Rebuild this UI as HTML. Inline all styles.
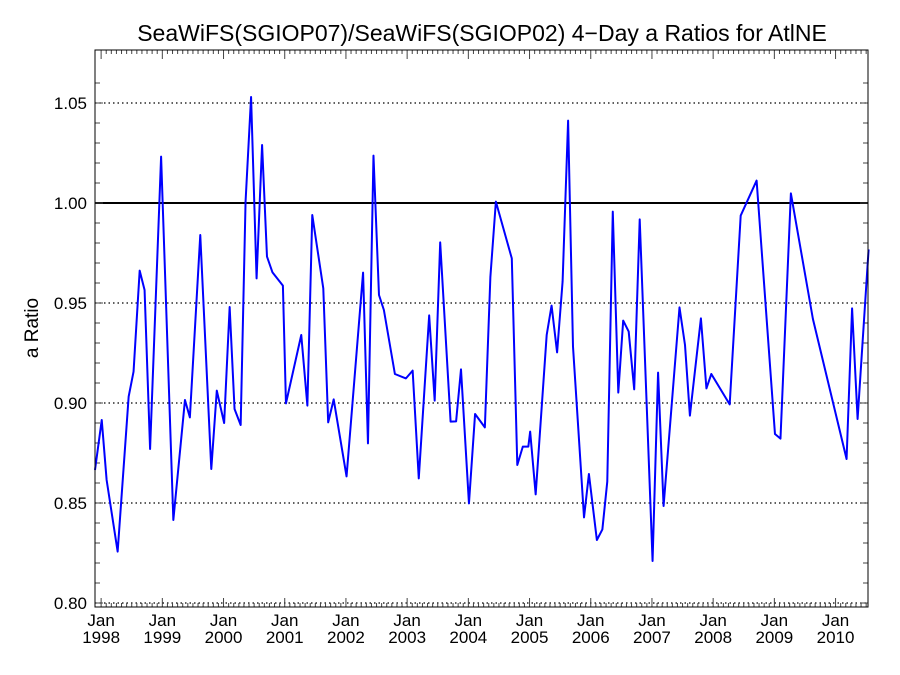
<!DOCTYPE html>
<html><head><meta charset="utf-8"><style>
body{margin:0;background:#fff;}
svg{display:block;font-family:"Liberation Sans",Arial,sans-serif;}
</style></head><body>
<svg id="chart" width="900" height="675" viewBox="0 0 900 675" xmlns="http://www.w3.org/2000/svg">
<text x="482" y="41" font-size="23" text-anchor="middle">SeaWiFS(SGIOP07)/SeaWiFS(SGIOP02) 4−Day a Ratios for AtlNE</text>
<text x="0" y="0" font-size="19" text-anchor="middle" transform="translate(38,328) rotate(-90)">a Ratio</text>
<g id="grid"></g>
<g id="ticks"></g>
<g id="labels"></g>
<g id="series"></g>
<rect x="95" y="50" width="773" height="557" fill="none" stroke="#000" stroke-width="1"/>
</svg>
<script>
const yTicks=[0.80,0.85,0.90,0.95,1.00,1.05];
const yTickLabels=["0.80","0.85","0.90","0.95","1.00","1.05"];
const xYears=[1998,1999,2000,2001,2002,2003,2004,2005,2006,2007,2008,2009,2010];
const dates=[1997.9,1998.01,1998.09,1998.27,1998.45,1998.53,1998.63,1998.71,1998.80,1998.98,1999.18,1999.37,1999.45,1999.62,1999.80,1999.89,2000.01,2000.10,2000.18,2000.28,2000.36,2000.45,2000.54,2000.63,2000.71,2000.80,2000.97,2001.02,2001.27,2001.37,2001.45,2001.63,2001.71,2001.80,2002.01,2002.28,2002.36,2002.45,2002.54,2002.62,2002.80,2002.98,2003.09,2003.19,2003.36,2003.45,2003.54,2003.71,2003.80,2003.88,2004.01,2004.11,2004.27,2004.36,2004.45,2004.71,2004.80,2004.89,2004.98,2005.01,2005.10,2005.28,2005.36,2005.45,2005.54,2005.63,2005.71,2005.89,2005.97,2006.10,2006.19,2006.27,2006.36,2006.45,2006.53,2006.62,2006.71,2006.80,2007.01,2007.10,2007.19,2007.45,2007.54,2007.62,2007.80,2007.89,2007.97,2008.27,2008.45,2008.71,2009.01,2009.10,2009.27,2009.63,2010.18,2010.27,2010.36,2010.54];
const ratios=[0.8665,0.8915,0.8615,0.8257,0.9032,0.9157,0.9662,0.9565,0.877,1.0232,0.8415,0.9015,0.8928,0.984,0.867,0.9062,0.890,0.948,0.897,0.889,1.0007,1.053,0.9623,1.029,0.9732,0.9653,0.9587,0.8998,0.934,0.8987,0.994,0.9573,0.8903,0.9018,0.8633,0.9652,0.8798,1.0237,0.954,0.9465,0.9145,0.9123,0.9162,0.8623,0.9438,0.9012,0.9803,0.8907,0.8908,0.9168,0.8498,0.8945,0.8878,0.963,1.0007,0.9723,0.869,0.8782,0.8782,0.8857,0.8543,0.934,0.9487,0.9253,0.9607,1.0412,0.9282,0.8428,0.8645,0.8315,0.8368,0.8607,0.9957,0.9052,0.9412,0.9357,0.9068,0.9918,0.821,0.9152,0.8485,0.9478,0.929,0.8937,0.9423,0.9073,0.9145,0.8993,0.9937,1.0112,0.8845,0.8822,1.0048,0.942,0.872,0.9473,0.892,0.9768];

const L=95,R=868,T=50,B=607;
const xMin=1997.9,xMax=2010.53,yMin=0.798,yMax=1.0765;
const X=v=>L+(v-xMin)/(xMax-xMin)*(R-L);
const Y=v=>B-(v-yMin)/(yMax-yMin)*(B-T);
const NS="http://www.w3.org/2000/svg";
function mk(tag,parent){const e=document.createElementNS(NS,tag);document.getElementById(parent).appendChild(e);return e;}

yTicks.forEach((t,i)=>{
  const g=mk('line','grid');
  
  
  g.setAttribute('x1',L);g.setAttribute('x2',R);g.setAttribute('y1',Y(t));g.setAttribute('y2',Y(t));
  g.setAttribute('stroke','#000');
  if(Math.abs(t-1)<1e-9){g.setAttribute('stroke-width','2');}
  else{g.setAttribute('stroke-width','1.3');g.setAttribute('stroke-dasharray','1.5 3');}
  const lb=mk('text','labels');
  
  
  lb.setAttribute('x',87);lb.setAttribute('y',Y(t)+6);lb.setAttribute('font-size','17');lb.setAttribute('text-anchor','end');
  lb.textContent=yTickLabels[i];
});
for(let v=0.80;v<=1.07;v+=0.01){
  const major=Math.abs(Math.round(v*100)%5)===0;
  const len=major?8:5;
  [[L,L+len],[R,R-len]].forEach(p=>{
    const t=mk('line','ticks');
    
    
    t.setAttribute('x1',p[0]);t.setAttribute('x2',p[1]);t.setAttribute('y1',Y(v));t.setAttribute('y2',Y(v));
    t.setAttribute('stroke','#444');
  });
}
for(let m=0;m<=12*13;m++){
  const yr=1998+m/12;
  if(yr>xMax)break;
  const major=m%12===0;
  const len=major?9:4;
  [[B,B-len],[T,T+len]].forEach(p=>{
    const t=mk('line','ticks');
    
    
    t.setAttribute('x1',X(yr));t.setAttribute('x2',X(yr));t.setAttribute('y1',p[0]);t.setAttribute('y2',p[1]);
    t.setAttribute('stroke','#444');
  });
}
xYears.forEach(yr=>{
  const a=mk('text','labels');
  
  
  a.setAttribute('x',X(yr));a.setAttribute('y',626);a.setAttribute('font-size','17');a.setAttribute('text-anchor','middle');
  a.textContent='Jan';
  const b=mk('text','labels');
  
  
  b.setAttribute('x',X(yr));b.setAttribute('y',643);b.setAttribute('font-size','17');b.setAttribute('text-anchor','middle');
  b.textContent=String(yr);
});
const pl=mk('polyline','series');


pl.setAttribute('points',dates.map((d,i)=>X(Math.max(d,xMin))+','+Y(ratios[i])).join(' '));
pl.setAttribute('fill','none');pl.setAttribute('stroke','#0000ff');pl.setAttribute('stroke-width','2');pl.setAttribute('stroke-linejoin','round');
</script>
</body></html>
